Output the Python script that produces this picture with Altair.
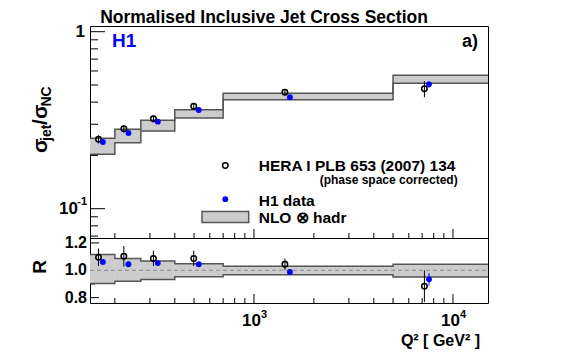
import altair as alt
import pandas as pd

# ---------------- data ----------------
bin_edges = [150, 200, 270, 400, 700, 5000, 15000]
nlo_high = [0.2498, 0.2809, 0.3158, 0.3625, 0.4487, 0.5670]
nlo_low = [0.2029, 0.2360, 0.2748, 0.3254, 0.4127, 0.5111]

hera_q2 = [165.5, 221.9, 312.4, 498.2, 1430.6, 7187]
hera_xs = [0.2466, 0.2831, 0.3225, 0.3789, 0.4546, 0.4764]
hera_err = [0.013, 0.014, 0.015, 0.017, 0.015, 0.050]

h1_q2 = [174.1, 234.0, 328.7, 527.8, 1515.7, 7579]
h1_xs = [0.2381, 0.2678, 0.3101, 0.3610, 0.4261, 0.5045]
h1_err = [0.005, 0.005, 0.006, 0.006, 0.007, 0.020]

ratio_high = [1.116, 1.087, 1.068, 1.048, 1.029, 1.044]
ratio_low = [0.903, 0.920, 0.933, 0.952, 0.968, 0.951]
hera_ratio = [1.095, 1.102, 1.087, 1.087, 1.044, 0.884]
hera_ratio_err = [0.064, 0.075, 0.056, 0.056, 0.042, 0.115]
h1_ratio = [1.061, 1.044, 1.053, 1.044, 0.988, 0.934]
h1_ratio_err = [0.020, 0.020, 0.020, 0.020, 0.020, 0.045]

x_major_ticks = [1000, 10000]
x_minor_ticks = [200, 300, 400, 500, 600, 700, 800, 900,
                 2000, 3000, 4000, 5000, 6000, 7000, 8000, 9000]
y_major_ticks = [0.1, 1.0]
y_minor_ticks = [0.07, 0.08, 0.09, 0.2, 0.3, 0.4, 0.5, 0.6, 0.7, 0.8, 0.9]
r_major_ticks = [0.8, 1.0, 1.2]
r_minor_ticks = [0.9, 1.1]
r_tick_labels = ["0.8", "1.0", "1.2"]

x_domain = [150, 15000]
y_domain = [0.0683, 1.077]
r_domain = [0.761, 1.236]

# ---------------- layout / style ----------------
W, H_TOP, H_BOT = 398, 212, 65
FONT = "Liberation Sans"
GREY = "#cccccc"
EDGE = "#555555"
BLUE = "#0000ff"

xs = alt.Scale(type="log", domain=x_domain, nice=False)
ys = alt.Scale(type="log", domain=y_domain, nice=False)
rs = alt.Scale(type="linear", domain=r_domain, nice=False, zero=False)

one = pd.DataFrame({"d": [0]})

bins = pd.DataFrame({
    "lo": bin_edges[:-1], "hi": bin_edges[1:],
    "ylo": nlo_low, "yhi": nlo_high,
    "rlo": ratio_low, "rhi": ratio_high,
})
steps = pd.DataFrame(
    [{"q": bin_edges[i], "v": (nlo_high + [nlo_high[-1]])[i], "r": (ratio_high + [ratio_high[-1]])[i], "k": "hi"} for i in range(7)]
    + [{"q": bin_edges[i], "v": (nlo_low + [nlo_low[-1]])[i], "r": (ratio_low + [ratio_low[-1]])[i], "k": "lo"} for i in range(7)]
)
hera = pd.DataFrame({
    "q": hera_q2, "v": hera_xs,
    "vlo": [a - b for a, b in zip(hera_xs, hera_err)],
    "vhi": [a + b for a, b in zip(hera_xs, hera_err)],
    "r": hera_ratio,
    "rlo": [a - b for a, b in zip(hera_ratio, hera_ratio_err)],
    "rhi": [a + b for a, b in zip(hera_ratio, hera_ratio_err)],
})
h1 = pd.DataFrame({
    "q": h1_q2, "v": h1_xs,
    "vlo": [a - b for a, b in zip(h1_xs, h1_err)],
    "vhi": [a + b for a, b in zip(h1_xs, h1_err)],
    "r": h1_ratio,
    "rlo": [a - b for a, b in zip(h1_ratio, h1_ratio_err)],
    "rhi": [a + b for a, b in zip(h1_ratio, h1_ratio_err)],
})


def txt(text, x, y, size, align="left", angle=0, color="black", baseline="alphabetic"):
    return alt.Chart(one).mark_text(
        font=FONT, fontWeight="bold", fontSize=size, align=align,
        baseline=baseline, angle=angle, color=color,
    ).encode(x=alt.value(x), y=alt.value(y), text=alt.value(text))


def xticks(h, vals, length):
    return alt.Chart(pd.DataFrame({"q": vals})).mark_rule(color="black", strokeWidth=1).encode(
        x=alt.X("q:Q", scale=xs, axis=None), y=alt.value(h), y2=alt.value(h - length))


def vticks(vals, field_scale, length):
    return alt.Chart(pd.DataFrame({"v": vals})).mark_rule(color="black", strokeWidth=1).encode(
        y=alt.Y("v:Q", scale=field_scale, axis=None), x=alt.value(0), x2=alt.value(length))


# ---------------- top panel ----------------
band_top = alt.Chart(bins).mark_rect(fill=GREY).encode(
    x=alt.X("lo:Q", scale=xs, axis=None), x2="hi:Q",
    y=alt.Y("ylo:Q", scale=ys, axis=None), y2="yhi:Q")
lines_top = alt.Chart(steps).mark_line(interpolate="step-after", color=EDGE, strokeWidth=1.5).encode(
    x=alt.X("q:Q", scale=xs, axis=None), y=alt.Y("v:Q", scale=ys, axis=None), detail="k:N")
err_hera_top = alt.Chart(hera).mark_rule(color="black", strokeWidth=1).encode(
    x=alt.X("q:Q", scale=xs, axis=None), y=alt.Y("vlo:Q", scale=ys, axis=None), y2="vhi:Q")
err_h1_top = alt.Chart(h1).mark_rule(color=BLUE, strokeWidth=1).encode(
    x=alt.X("q:Q", scale=xs, axis=None), y=alt.Y("vlo:Q", scale=ys, axis=None), y2="vhi:Q")
pts_hera_top = alt.Chart(hera).mark_point(shape="circle", filled=False, color="black",
                                          strokeWidth=1.5, size=30, opacity=1).encode(
    x=alt.X("q:Q", scale=xs, axis=None), y=alt.Y("v:Q", scale=ys, axis=None))
pts_h1_top = alt.Chart(h1).mark_circle(color=BLUE, size=34, opacity=1).encode(
    x=alt.X("q:Q", scale=xs, axis=None), y=alt.Y("v:Q", scale=ys, axis=None))

ylab_one = alt.Chart(pd.DataFrame({"v": [1.0], "t": ["1"]})).mark_text(
    font=FONT, fontWeight="bold", fontSize=17, align="right", baseline="middle").encode(
    y=alt.Y("v:Q", scale=ys, axis=None), text="t:N", x=alt.value(-5))
ylab_ten = alt.Chart(pd.DataFrame({"v": [0.1], "t": ["10"]})).mark_text(
    font=FONT, fontWeight="bold", fontSize=17, align="right", baseline="middle").encode(
    y=alt.Y("v:Q", scale=ys, axis=None), text="t:N", x=alt.value(-12))
ylab_exp = alt.Chart(pd.DataFrame({"v": [0.1], "t": ["-1"]})).mark_text(
    font=FONT, fontWeight="bold", fontSize=11, align="right", baseline="middle", dy=-7).encode(
    y=alt.Y("v:Q", scale=ys, axis=None), text="t:N", x=alt.value(-3))

legend_layers = [
    alt.Chart(one).mark_point(shape="circle", filled=False, color="black", strokeWidth=1.5,
                              size=30, opacity=1).encode(x=alt.value(135.3), y=alt.value(139.5)),
    txt("HERA I PLB 653 (2007) 134", 168.7, 144.5, 15.5),
    txt("(phase space corrected)", 367.7, 157.5, 12, align="right"),
    alt.Chart(one).mark_circle(color=BLUE, size=34, opacity=1).encode(
        x=alt.value(135.3), y=alt.value(173.2)),
    txt("H1 data", 168.7, 180, 15.5),
    alt.Chart(one).mark_rect(fill=GREY, stroke=EDGE, strokeWidth=1.5).encode(
        x=alt.value(112), x2=alt.value(158.7), y=alt.value(185.5), y2=alt.value(196.5)),
    txt("NLO \u2297 hadr", 168.7, 197, 15.5),
]

title_layers = [
    txt("Normalised Inclusive Jet Cross Section", 174, -3, 17.5, align="center"),
    txt("H1", 22, 20.5, 19, color=BLUE),
    txt("a)", 388, 20.5, 18, align="right"),
    # y-axis title sigma_jet / sigma_NC (rotated)
    txt("\u03c3", -43, 127, 21, angle=270),
    txt("jet", -39, 115, 14, angle=270),
    txt("/", -43, 99, 21, angle=270),
    txt("\u03c3", -43, 93, 21, angle=270),
    txt("NC", -39, 80.5, 14, angle=270),
]

top = alt.layer(
    band_top, lines_top,
    vticks(y_minor_ticks, ys, 8), vticks(y_major_ticks, ys, 15),
    xticks(H_TOP, x_minor_ticks, 5), xticks(H_TOP, x_major_ticks, 9),
    err_hera_top, err_h1_top, pts_hera_top, pts_h1_top,
    ylab_one, ylab_ten, ylab_exp,
    *legend_layers, *title_layers,
).properties(width=W, height=H_TOP)

# ---------------- bottom (ratio) panel ----------------
band_bot = alt.Chart(bins).mark_rect(fill=GREY).encode(
    x=alt.X("lo:Q", scale=xs, axis=None), x2="hi:Q",
    y=alt.Y("rlo:Q", scale=rs, axis=None), y2="rhi:Q")
lines_bot = alt.Chart(steps).mark_line(interpolate="step-after", color=EDGE, strokeWidth=1.5).encode(
    x=alt.X("q:Q", scale=xs, axis=None), y=alt.Y("r:Q", scale=rs, axis=None), detail="k:N")
unity = alt.Chart(pd.DataFrame({"r": [1.0]})).mark_rule(color="#888888", strokeDash=[4, 3],
                                                       strokeWidth=1).encode(
    y=alt.Y("r:Q", scale=rs, axis=None), x=alt.value(0), x2=alt.value(W))
err_hera_bot = alt.Chart(hera).mark_rule(color="black", strokeWidth=1).encode(
    x=alt.X("q:Q", scale=xs, axis=None), y=alt.Y("rlo:Q", scale=rs, axis=None), y2="rhi:Q")
err_h1_bot = alt.Chart(h1).mark_rule(color=BLUE, strokeWidth=1).encode(
    x=alt.X("q:Q", scale=xs, axis=None), y=alt.Y("rlo:Q", scale=rs, axis=None), y2="rhi:Q")
pts_hera_bot = alt.Chart(hera).mark_point(shape="circle", filled=False, color="black",
                                          strokeWidth=1.5, size=30, opacity=1).encode(
    x=alt.X("q:Q", scale=xs, axis=None), y=alt.Y("r:Q", scale=rs, axis=None))
pts_h1_bot = alt.Chart(h1).mark_circle(color=BLUE, size=34, opacity=1).encode(
    x=alt.X("q:Q", scale=xs, axis=None), y=alt.Y("r:Q", scale=rs, axis=None))

rlab = alt.Chart(pd.DataFrame({"v": r_major_ticks, "t": r_tick_labels})).mark_text(
    font=FONT, fontWeight="bold", fontSize=16, align="right", baseline="middle").encode(
    y=alt.Y("v:Q", scale=rs, axis=None), text="t:N", x=alt.value(-3))

xlab_main = alt.Chart(pd.DataFrame({"q": x_major_ticks, "t": ["10", "10"]})).mark_text(
    font=FONT, fontWeight="bold", fontSize=17, align="right", baseline="alphabetic", dx=7).encode(
    x=alt.X("q:Q", scale=xs, axis=None), text="t:N", y=alt.value(87.5))
xlab_exp = alt.Chart(pd.DataFrame({"q": x_major_ticks, "t": ["3", "4"]})).mark_text(
    font=FONT, fontWeight="bold", fontSize=11, align="left", baseline="alphabetic", dx=7).encode(
    x=alt.X("q:Q", scale=xs, axis=None), text="t:N", y=alt.value(80))

bottom = alt.layer(
    vticks(r_minor_ticks, rs, 5), vticks(r_major_ticks, rs, 9),
    xticks(H_BOT, x_minor_ticks, 5), xticks(H_BOT, x_major_ticks, 9),
    band_bot, lines_bot, unity,
    err_hera_bot, err_h1_bot, pts_hera_bot, pts_h1_bot,
    rlab, xlab_main, xlab_exp,
    txt("Q\u00b2 [ GeV\u00b2 ]", 390, 107.5, 16, align="right"),
    txt("R", -44, 29, 19, align="center", angle=270),
).properties(width=W, height=H_BOT)

chart = alt.vconcat(top, bottom, spacing=0, bounds="flush").properties(
    padding={"left": 21, "top": 0, "right": 5, "bottom": 5}
).configure_view(stroke="black", strokeWidth=1)

chart.save("out.html", embed_options={"renderer": "svg", "actions": False})
